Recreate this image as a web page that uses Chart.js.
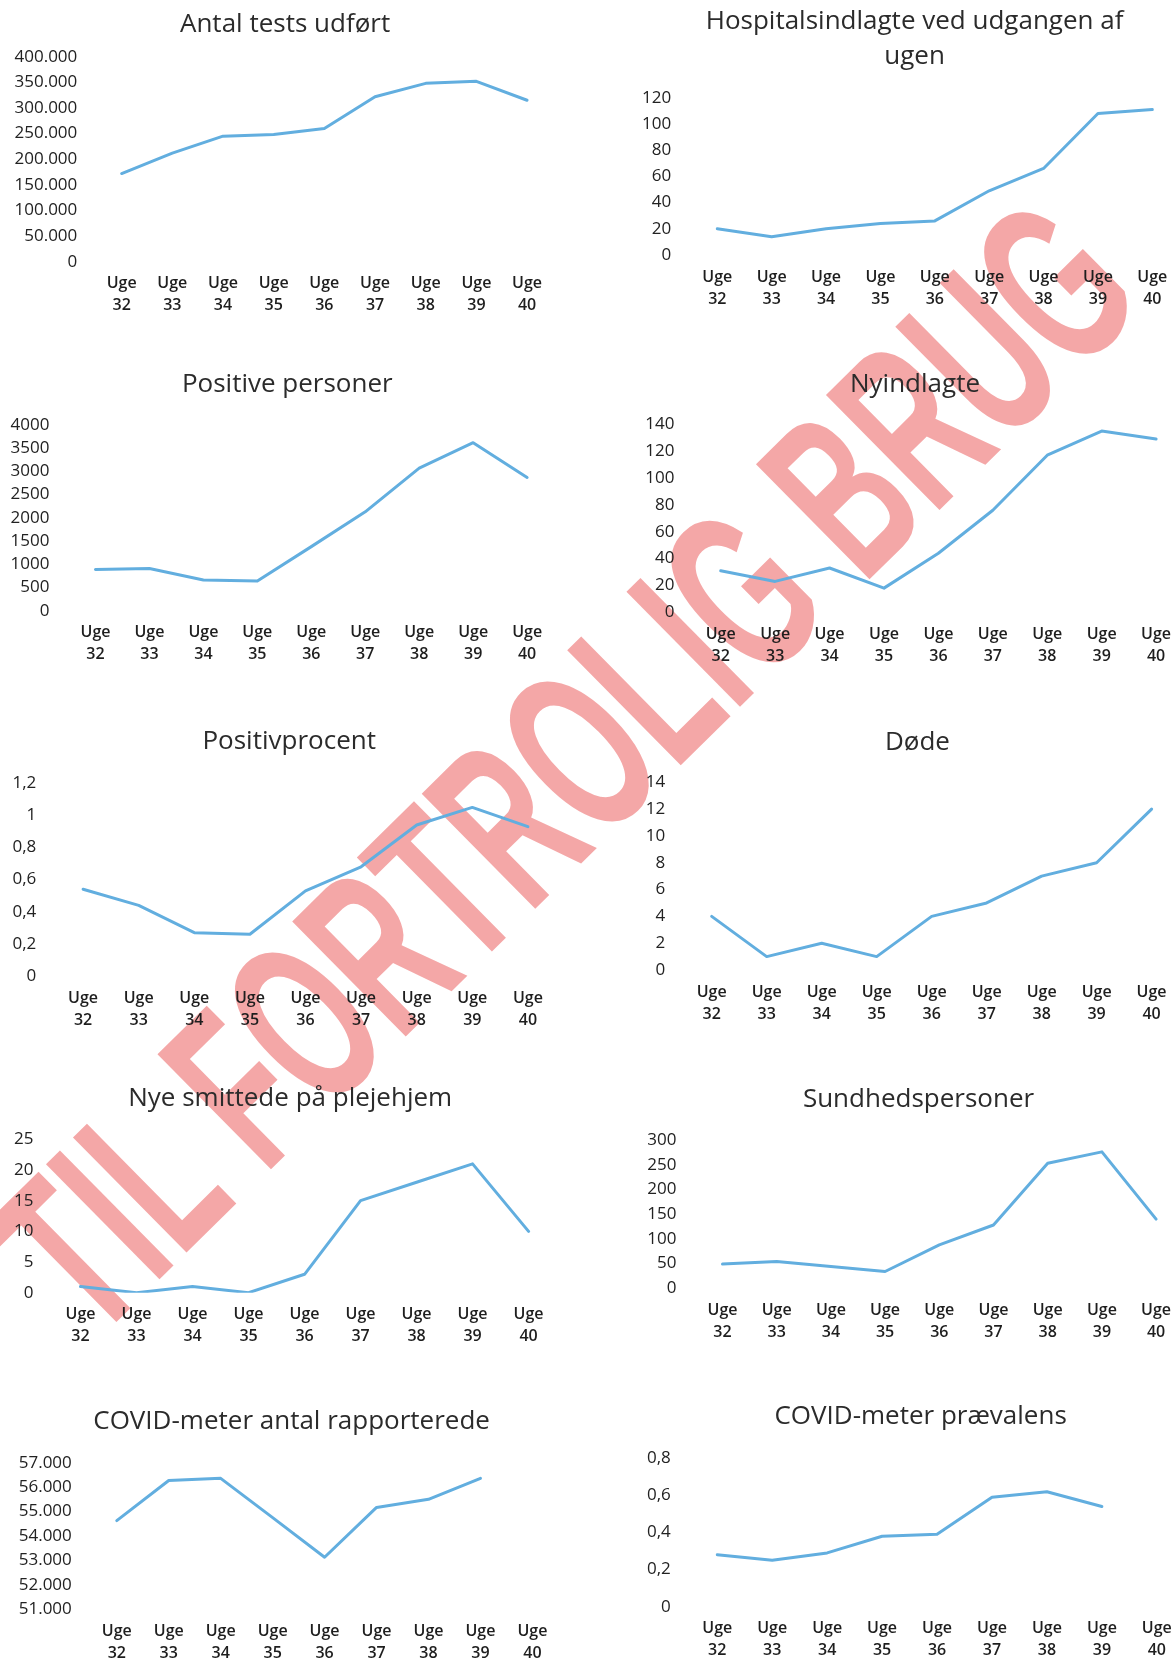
<!DOCTYPE html>
<html>
<head>
<meta charset="utf-8">
<script src="https://cdn.jsdelivr.net/npm/chart.js@4.4.1/dist/chart.umd.min.js"></script>
<style>
  html, body { margin: 0; padding: 0; background: #fff; }
  #side { position: relative; width: 1174px; height: 1660px; overflow: hidden; background: #fff; }
  #side canvas { position: absolute; z-index: 1; }
  #stempel {
    position: absolute; z-index: 0; left: 564px; top: 766px;
    font-family: "Liberation Sans", "DejaVu Sans", sans-serif; font-size: 235px; font-weight: bold;
    line-height: 1;
    color: rgba(235, 95, 95, 0.55); white-space: nowrap;
    transform: translate(-50%, -50%) rotate(-44.6deg) scaleX(0.58);
  }
</style>
</head>
<body>
<div id="side">
  <div id="stempel">TIL FORTROLIG BRUG</div>
</div>
<script>
// --- Data pr. uge ---
const ugeNumre = ["32", "33", "34", "35", "36", "37", "38", "39", "40"];

const antalTests = [172000, 212000, 245000, 248000, 260000, 322000, 348000, 352000, 315000];
const hospitalsindlagte = [20, 14, 20, 24, 26, 49, 66, 108, 111];
const positivePersoner = [890, 910, 660, 640, 1380, 2130, 3070, 3620, 2870];
const nyindlagte = [31, 23, 33, 18, 44, 76, 117, 135, 129];
const positivprocent = [0.54, 0.44, 0.27, 0.26, 0.53, 0.68, 0.94, 1.05, 0.93];
const doede = [4, 1, 2, 1, 4, 5, 7, 8, 12];
const plejehjem = [1, 0, 1, 0, 3, 15, 18, 21, 10];
const sundhedspersoner = [49, 54, 44, 34, 88, 128, 253, 276, 140];
const covidMeterAntal = [54630, 56270, 56360, 54750, 53130, 55170, 55500, 56360, null];
const covidMeterPraevalens = [0.28, 0.25, 0.29, 0.38, 0.39, 0.59, 0.62, 0.54, null];

const LINJEFARVE = "#62aedf";
const TITEL_STR = 26;
const TITEL_LH = 35;

// dansk talformat: 400.000 og 0,2 (eller 4000 uden punktum)
function talDa(v, decimaler, tusind) {
  if (decimaler) return v.toFixed(1).replace(".", ",").replace(/,0$/, "");
  const s = String(Math.round(v));
  return tusind === false ? s : s.replace(/\B(?=(\d{3})+(?!\d))/g, ".");
}

// titlen tegnes selv, så den kan centreres uafhængigt af plotområdet
const titelPlugin = {
  id: "titelTekst",
  afterDraw(chart, args, opts) {
    const ctx = chart.ctx;
    ctx.save();
    ctx.font = `400 ${TITEL_STR}px 'Open Sans', sans-serif`;
    ctx.fillStyle = "#2b2b2b";
    ctx.textAlign = "center";
    ctx.textBaseline = "middle";
    [].concat(opts.tekst).forEach((linje, i) => {
      ctx.fillText(linje, opts.x, opts.y + i * TITEL_LH);
    });
    ctx.restore();
  },
};

// --- Opsætning af de 10 små grafer ---
const grafer = [
  { titel: "Antal tests udført", data: antalTests, min: 0, max: 400000, step: 50000,
    panel: { x: 0, y: 0, w: 587, h: 330 }, plot: { l: 96.3, r: 552.4, t: 56.7, b: 261.7 }, tpos: { x: 285.1, y: 25 } },
  { titel: ["Hospitalsindlagte ved udgangen af", "ugen"], data: hospitalsindlagte, min: 0, max: 120, step: 20,
    panel: { x: 587, y: 0, w: 600, h: 330 }, plot: { l: 690.1, r: 1179.5, t: 97.7, b: 255 }, tpos: { x: 914.6, y: 21.7 } },
  { titel: "Positive personer", data: positivePersoner, min: 0, max: 4000, step: 500, tusind: false,
    panel: { x: 0, y: 340, w: 587, h: 340 }, plot: { l: 68.5, r: 554.1, t: 425, b: 610.7 }, tpos: { x: 287.3, y: 385 } },
  { titel: "Nyindlagte", data: nyindlagte, min: 0, max: 140, step: 20,
    panel: { x: 587, y: 340, w: 600, h: 340 }, plot: { l: 693.5, r: 1183.3, t: 424.3, b: 612.3 }, tpos: { x: 915, y: 385 } },
  { titel: "Positivprocent", data: positivprocent, min: 0, max: 1.2, step: 0.2, dec: true,
    panel: { x: 0, y: 690, w: 587, h: 340 }, plot: { l: 55.3, r: 555.7, t: 783.3, b: 976 }, tpos: { x: 289.2, y: 741.7 } },
  { titel: "Døde", data: doede, min: 0, max: 14, step: 2,
    panel: { x: 587, y: 690, w: 600, h: 340 }, plot: { l: 684.2, r: 1179.1, t: 782.3, b: 970 }, tpos: { x: 917.4, y: 742.7 } },
  { titel: "Nye smittede på plejehjem", data: plejehjem, min: 0, max: 25, step: 5,
    panel: { x: 0, y: 1040, w: 587, h: 320 }, plot: { l: 52.5, r: 556.6, t: 1139.3, b: 1292.7 }, tpos: { x: 290.2, y: 1098.3 } },
  { titel: "Sundhedspersoner", data: sundhedspersoner, min: 0, max: 300, step: 50,
    panel: { x: 587, y: 1040, w: 600, h: 320 }, plot: { l: 695.4, r: 1183.2, t: 1140, b: 1288.3 }, tpos: { x: 918.5, y: 1099.3 } },
  { titel: "COVID-meter antal rapporterede", data: covidMeterAntal, min: 51000, max: 57000, step: 1000,
    panel: { x: 0, y: 1370, w: 587, h: 290 }, plot: { l: 90.8, r: 558.4, t: 1462.7, b: 1609.3 }, tpos: { x: 291.6, y: 1421.7 } },
  { titel: "COVID-meter prævalens", data: covidMeterPraevalens, min: 0, max: 0.8, step: 0.2, dec: true,
    panel: { x: 587, y: 1370, w: 600, h: 290 }, plot: { l: 689.8, r: 1184.3, t: 1458.3, b: 1606.7 }, tpos: { x: 920.6, y: 1416.7 } },
];

const side = document.getElementById("side");
const ugeLabels = ugeNumre.map((n) => ["Uge", n]);

function lavGraf(g) {
  const p = g.panel, a = g.plot, t = g.tpos;
  const canvas = document.createElement("canvas");
  canvas.width = p.w;
  canvas.height = p.h;
  canvas.style.left = p.x + "px";
  canvas.style.top = p.y + "px";
  side.appendChild(canvas);

  // plads omkring plotområdet
  const padR = p.x + p.w - a.r;
  const padTop = a.t - p.y;
  const yBredde = a.l - p.x;
  const xHoejde = p.y + p.h - a.b;

  new Chart(canvas.getContext("2d"), {
    type: "line",
    data: {
      labels: ugeLabels,
      datasets: [{
        data: g.data,
        borderColor: LINJEFARVE,
        borderWidth: 3,
        borderCapStyle: "round",
        borderJoinStyle: "round",
        pointRadius: 0,
        tension: 0,
        fill: false,
      }],
    },
    plugins: [titelPlugin],
    options: {
      responsive: false,
      animation: false,
      layout: { padding: { left: 0, right: padR, top: padTop, bottom: 0 } },
      plugins: {
        legend: { display: false },
        tooltip: { enabled: false },
        title: { display: false },
        titelTekst: { tekst: g.titel, x: t.x - p.x, y: t.y - p.y },
      },
      scales: {
        x: {
          offset: true,
          grid: { display: false, drawTicks: false },
          border: { display: false },
          ticks: {
            autoSkip: false,
            maxRotation: 0,
            padding: 11,
            color: "#1e1e1e",
            font: { family: "'Open Sans', sans-serif", size: 16, weight: "600", lineHeight: 1.38 },
          },
          afterFit: (s) => { s.height = xHoejde; },
        },
        y: {
          min: g.min,
          max: g.max,
          grid: { display: false, drawTicks: false },
          border: { display: false },
          ticks: {
            stepSize: g.step,
            autoSkip: false,
            padding: 19,
            color: "#222",
            font: { family: "'Open Sans', sans-serif", size: 17, weight: "500" },
            callback: (v) => talDa(v, g.dec, g.tusind),
          },
          afterFit: (s) => { s.width = yBredde; },
        },
      },
    },
  });
}

grafer.forEach(lavGraf);
</script>
</body>
</html>
